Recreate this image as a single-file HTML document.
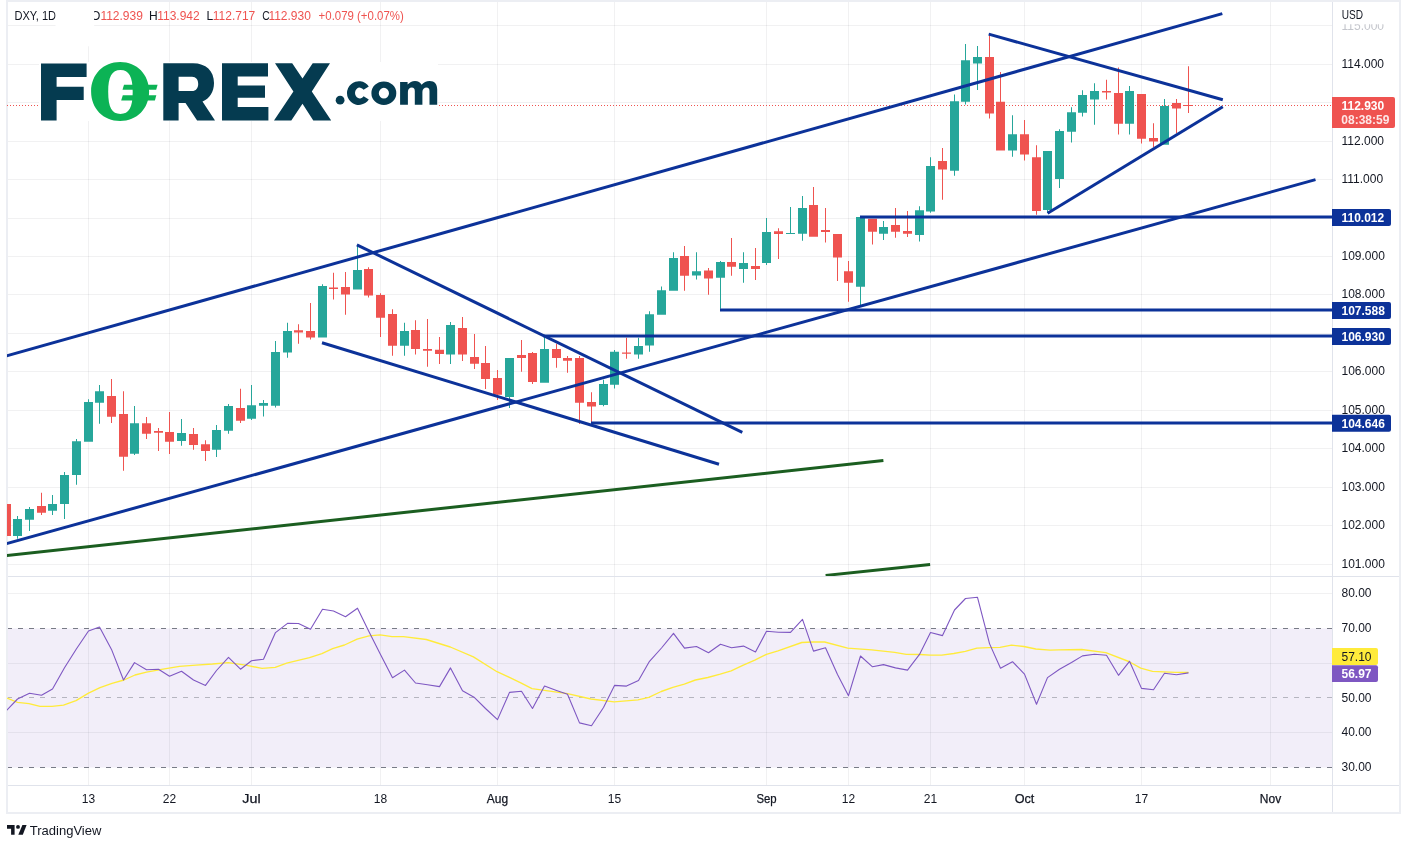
<!DOCTYPE html>
<html><head><meta charset="utf-8"><title>DXY 1D</title>
<style>html,body{margin:0;padding:0;background:#fff;}svg{display:block;will-change:transform;}</style>
</head><body>
<svg width="1410" height="848" viewBox="0 0 1410 848">
<defs>
<clipPath id="cm"><rect x="7" y="2" width="1325" height="574"/></clipPath>
<clipPath id="cr"><rect x="7" y="577" width="1325" height="208"/></clipPath>
<clipPath id="c115"><rect x="1333" y="24.2" width="66" height="20"/></clipPath>
</defs>
<rect width="1410" height="848" fill="#fff"/>
<rect x="7" y="1" width="1393" height="812" fill="none" stroke="#eceef3" stroke-width="2"/>
<!-- RSI band -->
<rect x="8" y="628.5" width="1324" height="139" fill="#7e57c2" fill-opacity="0.1"/>
<path d="M8 564.5H1332M8 525.5H1332M8 487.5H1332M8 448.5H1332M8 410.5H1332M8 371.5H1332M8 333.5H1332M8 294.5H1332M8 256.5H1332M8 218.5H1332M8 179.5H1332M8 141.5H1332M8 102.5H1332M8 64.5H1332M8 25.5H1332M8 593.5H1332M8 663.5H1332M8 732.5H1332M88.5 2V785M169.5 2V785M251.5 2V785M380.5 2V785M497.5 2V785M614.5 2V785M766.5 2V785M848.5 2V785M930.5 2V785M1024.5 2V785M1141.5 2V785M1270.5 2V785" stroke="#2a2e39" stroke-opacity="0.065" stroke-width="1" fill="none"/>
<!-- bands -->
<path d="M8 628.5H1332M8 767.5H1332" stroke="#787b86" stroke-width="1" stroke-dasharray="5 6" stroke-dashoffset="1" fill="none"/>
<path d="M8 697.5H1332" stroke="#787b86" stroke-opacity="0.5" stroke-width="1" stroke-dasharray="5 6" stroke-dashoffset="1" fill="none"/>
<!-- price line -->
<path d="M7 105.5H1332" stroke="#ef5350" stroke-width="1" stroke-dasharray="1 2" fill="none"/>
<g clip-path="url(#cm)">
<path d="M17 516h1V538.7h-1zM13 519h9V536h-9zM29 507h1V531h-1zM25 509h9V519.7h-9zM52 495h1V515h-1zM48 504h9V510.8h-9zM64 472h1V519h-1zM60 475h9V504h-9zM76 439h1V484.8h-1zM72 441.3h9V475h-9zM88 399.2h1V441.8h-1zM84 402.1h9V441.8h-9zM99 385h1V423.7h-1zM95 391.2h9V402.8h-9zM134 406h1V454.9h-1zM130 423.2h9V453.8h-9zM181 418.9h1V445.8h-1zM177 433.1h9V440.9h-9zM216 425.1h1V456.9h-1zM212 430.1h9V449.7h-9zM228 404h1V433.8h-1zM224 406.1h9V430.8h-9zM251 385h1V419.9h-1zM247 405.2h9V418.7h-9zM263 400h1V416.6h-1zM259 403h9V405.7h-9zM275 341.1h1V407.5h-1zM271 352.1h9V405.7h-9zM287 322.8h1V357.7h-1zM283 331.1h9V352.6h-9zM322 284.2h1V337.6h-1zM318 286h9V337.6h-9zM357 245.5h1V289.6h-1zM353 270h9V289.6h-9zM404 322.8h1V355.8h-1zM400 331h9V345.7h-9zM450 322h1V364h-1zM446 324.9h9V354.5h-9zM509 358h1V408.1h-1zM505 358h9V396.9h-9zM544 336.8h1V382.8h-1zM540 349h9V382.8h-9zM603 379.8h1V406.3h-1zM599 384h9V405.1h-9zM614 350.1h1V388.5h-1zM610 351.8h9V384.8h-9zM638 337.7h1V358.8h-1zM634 345.9h9V354.6h-9zM649 311.2h1V351.8h-1zM645 314.2h9V345.6h-9zM661 286.5h1V314.7h-1zM657 290.2h9V314.7h-9zM673 252.3h1V290.7h-1zM669 258h9V290.7h-9zM696 252.2h1V279.6h-1zM692 271.3h9V275.4h-9zM720 261h1V308.8h-1zM716 262.1h9V277.8h-9zM743 252.2h1V282.7h-1zM739 263.1h9V268.9h-9zM766 218h1V265.1h-1zM762 232h9V262.9h-9zM790 206.9h1V234h-1zM786 232.9h9V234h-9zM802 196.1h1V240.8h-1zM798 208.1h9V233.8h-9zM860 217.1h1V305.3h-1zM856 217.1h9V286.7h-9zM883 221h1V239.9h-1zM879 227.1h9V233.8h-9zM919 206.3h1V241.6h-1zM915 210.3h9V234.9h-9zM930 157.3h1V212.7h-1zM926 166h9V211.6h-9zM954 94.4h1V175.7h-1zM950 101.3h9V170.8h-9zM965 43.9h1V104.4h-1zM961 60.3h9V101.7h-9zM977 46.1h1V90.1h-1zM973 56.9h9V63.6h-9zM1012 115.2h1V156.7h-1zM1008 134.3h9V150.6h-9zM1047 151.1h1V213h-1zM1043 151.1h9V210h-9zM1059 129.2h1V187.9h-1zM1055 131.1h9V178.9h-9zM1071 107.2h1V142.6h-1zM1067 112.3h9V131.7h-9zM1082 90.2h1V116.6h-1zM1078 95.1h9V112.8h-9zM1094 83.2h1V124.7h-1zM1090 91.1h9V99.6h-9zM1129 86h1V134.5h-1zM1125 91.1h9V123.8h-9zM1164 99h1V144.7h-1zM1160 106h9V144.7h-9z" fill="#26a69a"/>
<path d="M6 500h1V540h-1zM2 504h9V536h-9zM41 492.8h1V515h-1zM37 506h9V512.8h-9zM111 379.1h1V422.9h-1zM107 396h9V416.7h-9zM123 391.2h1V470.8h-1zM119 414h9V456.7h-9zM146 417h1V439h-1zM142 423.2h9V433.8h-9zM158 428.1h1V451h-1zM154 431h9V432.8h-9zM169 412.1h1V454h-1zM165 431.9h9V441.8h-9zM193 428h1V449.8h-1zM189 434h9V444.9h-9zM205 440.2h1V460.9h-1zM201 444.2h9V450.9h-9zM240 388.8h1V423h-1zM236 408.1h9V420.8h-9zM298 324.2h1V343.8h-1zM294 330.2h9V332.5h-9zM310 303h1V339.6h-1zM306 331.1h9V337.5h-9zM333 272.8h1V299.6h-1zM329 287.4h9V288.9h-9zM345 271.9h1V314.8h-1zM341 287h9V294.5h-9zM368 267.2h1V297.6h-1zM364 269h9V295.6h-9zM380 293.2h1V337h-1zM376 295.1h9V317.7h-9zM392 309.2h1V355.8h-1zM388 314h9V345.7h-9zM415 320.2h1V354.5h-1zM411 330h9V348.9h-9zM427 319h1V366.8h-1zM423 348.9h9V350.8h-9zM439 337h1V364h-1zM435 349.8h9V354h-9zM462 316.9h1V360.9h-1zM458 328.1h9V354.6h-9zM474 334h1V369h-1zM470 357h9V363.8h-9zM485 346h1V388.9h-1zM481 362.9h9V379h-9zM497 370h1V400h-1zM493 377.9h9V394.7h-9zM521 339.9h1V371.7h-1zM517 354.9h9V357.9h-9zM532 352.1h1V384h-1zM528 352.9h9V382h-9zM556 343.7h1V367.8h-1zM552 349h9V358h-9zM567 356h1V372.8h-1zM563 358h9V360.7h-9zM579 356h1V423.9h-1zM575 358h9V402.7h-9zM591 392.2h1V424.4h-1zM587 402.1h9V406.6h-9zM626 337.7h1V358.8h-1zM622 352.6h9V353.8h-9zM684 246.1h1V290.7h-1zM680 256h9V275.8h-9zM708 268h1V294.7h-1zM704 270.4h9V278.6h-9zM731 238.1h1V275.8h-1zM727 262.1h9V266.7h-9zM755 248.1h1V279.9h-1zM751 265.9h9V268.9h-9zM778 228.2h1V259h-1zM774 231.2h9V234h-9zM813 187h1V236.8h-1zM809 205.1h9V236.8h-9zM825 208h1V242.5h-1zM821 230.1h9V231.9h-9zM837 234h1V280.9h-1zM833 234h9V257.5h-9zM848 261.1h1V301.8h-1zM844 271.2h9V282.7h-9zM872 218.8h1V244.6h-1zM868 218.8h9V231.8h-9zM895 208h1V237.7h-1zM891 225.1h9V231.8h-9zM907 211h1V236.9h-1zM903 231h9V233.7h-9zM942 148.1h1V199.7h-1zM938 161.1h9V169.6h-9zM989 34h1V118.6h-1zM985 57.1h9V113.6h-9zM1000 71.9h1V150.6h-1zM996 101.7h9V150.6h-9zM1024 120.1h1V160.5h-1zM1020 134.3h9V154.4h-9zM1036 145.2h1V214.8h-1zM1032 157.2h9V210.9h-9zM1106 79.8h1V99.6h-1zM1102 91.1h9V92.6h-9zM1118 67.5h1V134.5h-1zM1114 93h9V123.8h-9zM1141 94.1h1V143.5h-1zM1137 94.1h9V138.8h-9zM1153 123.3h1V147h-1zM1149 138h9V141.6h-9zM1176 99h1V133h-1zM1172 102.9h9V108.6h-9zM1188 66.2h1V112.9h-1zM1184 105h9V106h-9z" fill="#ef5350"/>
<line x1="-5" y1="359.12" x2="1222.3" y2="13.6" stroke="#0c3299" stroke-width="3" stroke-linecap="butt"/><line x1="-5" y1="546.88" x2="1315.5" y2="179.6" stroke="#0c3299" stroke-width="3" stroke-linecap="butt"/><line x1="356.9" y1="244.8" x2="742.3" y2="432.3" stroke="#0c3299" stroke-width="3" stroke-linecap="butt"/><line x1="322" y1="342.7" x2="719" y2="464.2" stroke="#0c3299" stroke-width="3" stroke-linecap="butt"/><line x1="860" y1="217" x2="1332" y2="217" stroke="#0c3299" stroke-width="3" stroke-linecap="butt"/><line x1="720" y1="310" x2="1332" y2="310" stroke="#0c3299" stroke-width="3" stroke-linecap="butt"/><line x1="543.5" y1="336" x2="1332" y2="336" stroke="#0c3299" stroke-width="3" stroke-linecap="butt"/><line x1="591" y1="423" x2="1332" y2="423" stroke="#0c3299" stroke-width="3" stroke-linecap="butt"/><line x1="988.7" y1="34.1" x2="1222.8" y2="99.8" stroke="#0c3299" stroke-width="3" stroke-linecap="butt"/><line x1="1047.6" y1="213.3" x2="1222.8" y2="106.7" stroke="#0c3299" stroke-width="3" stroke-linecap="butt"/><line x1="-5" y1="556.75" x2="883.4" y2="460.6" stroke="#1b5e20" stroke-width="3" stroke-linecap="butt"/><line x1="825.6" y1="575.4" x2="930.1" y2="564.6" stroke="#1b5e20" stroke-width="3" stroke-linecap="butt"/>
</g>
<g clip-path="url(#cr)" fill="none">
<polyline points="7,698.1 17.5,702.3 29,703.6 40,706.4 52,706.4 63.5,705.2 76,700.6 88.5,693.2 100,687.7 112,683.3 124,680 135,675 146.5,672.2 163,669.2 179.5,666.4 196,665.1 212.5,664 228.2,662.6 245.6,665.1 262,668.4 275.2,667.3 286.7,663.1 309.5,657.7 321.9,653.6 332.6,648.6 344.5,645 357.1,639.2 369,635.9 380.2,634.9 392,636.6 403.5,636.6 426.3,639.5 450.3,647 473.4,656.9 497,671.7 508.9,677.2 520.8,682.8 532,688.6 544.4,690.4 567.5,693.7 591,699 614.1,701.8 638,699.8 648.8,697.3 661.2,691.5 672.8,687.4 684.3,684.1 695.4,680 707.8,677.5 720.2,674.2 731.2,670.9 743.3,665.1 754.8,660.2 766.4,654.4 778,650.8 801.8,642.5 813,642 824.6,642 847.7,648.1 871.6,649.8 894.7,652.4 906.3,654.4 920,654.5 930.1,655.1 941.7,655.1 953.8,653.5 965.3,651.3 976.9,648.2 988.9,647.7 1000,647.4 1011.5,645.2 1023.9,646.5 1035.8,649 1050,650.2 1058.4,649.8 1081.7,649.5 1105.8,652.6 1128.8,661.5 1140.7,668.2 1152.5,671.4 1163.8,671.9 1175.8,672.4 1188.5,672.4" stroke="#ffeb3b" stroke-width="1.35" stroke-linejoin="round"/>
<polyline points="6.5,710.5 17.5,699 29.5,693.2 41.5,695.3 52.5,689 64.5,667.8 76.5,648.8 88.5,631 99.5,627.1 111.5,649.4 123.5,680 134.5,662.6 146.5,669.7 158.5,669.2 169.5,676.2 181.5,671.2 193.5,680 205.5,685.4 216.5,670.5 228.5,657.4 240.5,669.2 251.5,660.7 263.5,659.3 275.5,632.6 287.5,623.4 298.5,623.5 310.5,629.3 322.5,609.2 333.5,611 345.5,616.7 357.5,608.2 368.5,630.8 380.5,654.5 392.5,677.8 404.5,670.1 415.5,683 427.5,684.8 439.5,686.6 450.5,667.9 462.5,690.7 474.5,697.6 485.5,708.5 497.5,719.6 509.5,692.4 521.5,691.2 532.5,708.5 544.5,686.1 556.5,690.4 567.5,694.3 579.5,722.9 591.5,725.7 603.5,707.5 614.5,685.4 626.5,686.1 638.5,680.5 649.5,661.3 661.5,648 673.5,633.3 684.5,648.1 696.5,646.5 708.5,652.7 720.5,644.2 731.5,647.8 743.5,646.1 755.5,651.9 766.5,631.3 778.5,632.3 790.5,632.4 802.5,619.4 813.5,651.1 825.5,647.8 837.5,674.5 848.5,695.7 860.5,656 872.5,666.8 883.5,664.6 895.5,667.9 907.5,670.1 919.5,654.4 930.5,632.5 942.5,635.6 954.5,610 965.5,598.5 977.5,597.3 989.5,643.6 1000.5,668.3 1012.5,661.7 1024.5,674.1 1036.5,704.2 1047.5,677.6 1059.5,669.3 1071.5,662.5 1082.5,655.9 1094.5,654.2 1106.5,655.2 1118.5,675.3 1129.5,661.3 1141.5,688.4 1153.5,689.8 1164.5,673.3 1176.5,674.7 1188.5,672.9" stroke="#7e57c2" stroke-width="1.1" stroke-linejoin="round"/>
</g>
<!-- separators / frame -->
<path d="M8 576.5H1399M8 785.5H1399M1332.5 2V812" stroke="#e0e3eb" stroke-width="1" fill="none"/>
<!-- overlays -->
<rect x="55.7" y="2" width="38.4" height="44.2" fill="#fff"/>
<g font-family="Liberation Sans, sans-serif" font-size="12" fill="#131722">
<text x="14.4" y="20" textLength="41.7" lengthAdjust="spacingAndGlyphs">DXY, 1D</text>
</g>
<g font-family="Liberation Sans, sans-serif" font-size="12">
<text x="91.1" y="20" fill="#131722">O</text><text x="100.4" y="20" fill="#ef5350">112.939</text>
<text x="149.1" y="20" fill="#131722">H</text><text x="157.2" y="20" fill="#ef5350">113.942</text>
<text x="206.6" y="20" fill="#131722">L</text><text x="212.8" y="20" fill="#ef5350">112.717</text>
<text x="262.2" y="20" fill="#131722" textLength="7.4" lengthAdjust="spacingAndGlyphs">C</text><text x="268.4" y="20" fill="#ef5350">112.930</text>
<text x="318.6" y="20" fill="#ef5350" textLength="85.2" lengthAdjust="spacingAndGlyphs">+0.079 (+0.07%)</text>
</g>
<rect x="55.7" y="2" width="38.4" height="44.2" fill="#fff"/>
<rect x="39" y="62" width="399" height="59" fill="#fff"/>
<g fill="#053b50">
<path d="M41 63.4H86.6V77H56.6V86.8H83.7V99.9H56.6V120.5H41Z"/>
<path fill-rule="evenodd" d="M163.3 63.3H193C206 63.3 214 71 214 83C214 92 209.5 98.8 202.5 101.6L215 120.4H197.1L185.5 102.9H178.6V120.4H163.3ZM178.6 76.7H192C196 76.7 198.2 79.8 198.2 83.9C198.2 88 196 91 192 91H178.6Z"/>
<path d="M222 63.3H268V76.4H237.7V85.6H265V97.8H237.7V107.1H268.4V120.4H222Z"/>
<path d="M275 63.3H292.2L302.5 78.6L312.7 63.3H330L311.8 91.5L331.2 120.4H313.3L302.5 103.8L291.3 120.4H274L293.4 91.5Z"/>
<circle cx="340.1" cy="100.2" r="4.4"/>
<path d="M368.8 86.5A11.9 11.85 0 1 0 368.8 99.6L363.6 96.25A4.75 5.45 0 1 1 363.6 89.85Z"/>
<path fill-rule="evenodd" d="M371.4 93.15A12.45 11.75 0 1 0 396.3 93.15A12.45 11.75 0 1 0 371.4 93.15ZM378.8 93.2A5.1 5.4 0 1 0 389 93.2A5.1 5.4 0 1 0 378.8 93.2Z"/>
<path d="M400.1 104.7V81.9H407.6V84.6C409.5 82.3 412 80.9 415 80.9C418.2 80.9 420.4 82.4 421.6 84.8C423.6 82.3 426.3 80.9 429.6 80.9C434.7 80.9 437.2 84.2 437.2 89.5V104.7H429.5V91.2C429.5 88.8 428.5 87.5 426.5 87.5C424.3 87.5 422.4 89.2 422.4 92V104.7H414.8V91.2C414.8 88.8 413.8 87.5 411.8 87.5C409.6 87.5 407.9 89.2 407.9 92V104.7Z"/>
</g>
<g fill="#0cb355">
<path fill-rule="evenodd" d="M149.1 91.4C149.1 108.51 136.92 120.9 120.1 120.9C103.28 120.9 91.1 108.51 91.1 91.4C91.1 74.29 103.28 61.9 120.1 61.9C136.92 61.9 149.1 74.29 149.1 91.4ZM132.7 92C132.7 107.33 129.03 113.9 120.45 113.9C111.88 113.9 108.2 107.33 108.2 92C108.2 76.67 111.88 70.1 120.45 70.1C129.03 70.1 132.7 76.67 132.7 92Z"/>
<path d="M124 84.8H157.6L156.2 89.8H122.5Z"/>
<path d="M122.8 95.2H156.3L154.9 100.5H121.2Z"/>
</g>
<g clip-path="url(#c115)"><text x="1341.5" y="29.78" font-family="Liberation Sans, sans-serif" font-size="12" fill="#c4c6cc">115.000</text></g>
<g font-family="Liberation Sans, sans-serif" font-size="12" fill="#131722">
<text x="1341.5" y="68.3">114.000</text><text x="1341.5" y="145.3">112.000</text><text x="1341.5" y="183.3">111.000</text><text x="1341.5" y="260.3">109.000</text><text x="1341.5" y="298.3">108.000</text><text x="1341.5" y="375.3">106.000</text><text x="1341.5" y="414.3">105.000</text><text x="1341.5" y="452.3">104.000</text><text x="1341.5" y="491.3">103.000</text><text x="1341.5" y="529.3">102.000</text><text x="1341.5" y="568.3">101.000</text>
<text x="1341.7" y="19" textLength="21.3" lengthAdjust="spacingAndGlyphs">USD</text>
<text x="1341.5" y="597">80.00</text><text x="1341.5" y="632">70.00</text><text x="1341.5" y="702">50.00</text><text x="1341.5" y="736">40.00</text><text x="1341.5" y="771">30.00</text>
<text x="88.5" y="803" text-anchor="middle">13</text><text x="169.5" y="803" text-anchor="middle">22</text><text x="251.5" y="803" text-anchor="middle" stroke="#131722" stroke-width="0.25" textLength="18.3" lengthAdjust="spacingAndGlyphs">Jul</text><text x="380.5" y="803" text-anchor="middle">18</text><text x="497.5" y="803" text-anchor="middle" stroke="#131722" stroke-width="0.25" textLength="21.3" lengthAdjust="spacingAndGlyphs">Aug</text><text x="614.5" y="803" text-anchor="middle">15</text><text x="766.5" y="803" text-anchor="middle" stroke="#131722" stroke-width="0.25" textLength="20.2" lengthAdjust="spacingAndGlyphs">Sep</text><text x="848.5" y="803" text-anchor="middle">12</text><text x="930.5" y="803" text-anchor="middle">21</text><text x="1024.5" y="803" text-anchor="middle" stroke="#131722" stroke-width="0.25" textLength="19.6" lengthAdjust="spacingAndGlyphs">Oct</text><text x="1141.5" y="803" text-anchor="middle">17</text><text x="1270.5" y="803" text-anchor="middle" stroke="#131722" stroke-width="0.25" textLength="21.3" lengthAdjust="spacingAndGlyphs">Nov</text>
</g>
<g font-family="Liberation Sans, sans-serif" font-size="12">
<path d="M1332 208.9H1389a2 2 0 0 1 2 2V223.9a2 2 0 0 1 -2 2H1332Z" fill="#0c3299"/><text x="1341.5" y="221.7" fill="#fff" font-weight="bold">110.012</text><path d="M1332 302H1389a2 2 0 0 1 2 2V317a2 2 0 0 1 -2 2H1332Z" fill="#0c3299"/><text x="1341.5" y="314.8" fill="#fff" font-weight="bold">107.588</text><path d="M1332 328H1389a2 2 0 0 1 2 2V343a2 2 0 0 1 -2 2H1332Z" fill="#0c3299"/><text x="1341.5" y="340.8" fill="#fff" font-weight="bold">106.930</text><path d="M1332 414.7H1389a2 2 0 0 1 2 2V429.7a2 2 0 0 1 -2 2H1332Z" fill="#0c3299"/><text x="1341.5" y="427.5" fill="#fff" font-weight="bold">104.646</text>
<path d="M1332 97H1393a2 2 0 0 1 2 2V126a2 2 0 0 1 -2 2H1332Z" fill="#ef5350"/>
<text x="1341.5" y="110" fill="#fff" font-weight="bold">112.930</text>
<text x="1341.3" y="124.2" fill="#fde6e6" font-weight="bold">08:38:59</text>
<path d="M1332 648H1376a2 2 0 0 1 2 2V663a2 2 0 0 1 -2 2H1332Z" fill="#ffeb3b"/>
<text x="1341.5" y="661" fill="#131722">57.10</text>
<path d="M1332 665.2H1376a2 2 0 0 1 2 2V680a2 2 0 0 1 -2 2H1332Z" fill="#7e57c2"/>
<text x="1341.5" y="678" fill="#fff" font-weight="bold">56.97</text>
</g>
<g fill="#131722">
<path d="M7 825.1H14.6V834.8H11.1V828.8H7Z"/>
<circle cx="18" cy="826.9" r="1.95"/>
<path d="M22.4 825.1H26.6L22.8 834.8H18.3Z"/>
<text x="29.8" y="834.8" font-family="Liberation Sans, sans-serif" font-size="13">TradingView</text>
</g>
</svg>
</body></html>
